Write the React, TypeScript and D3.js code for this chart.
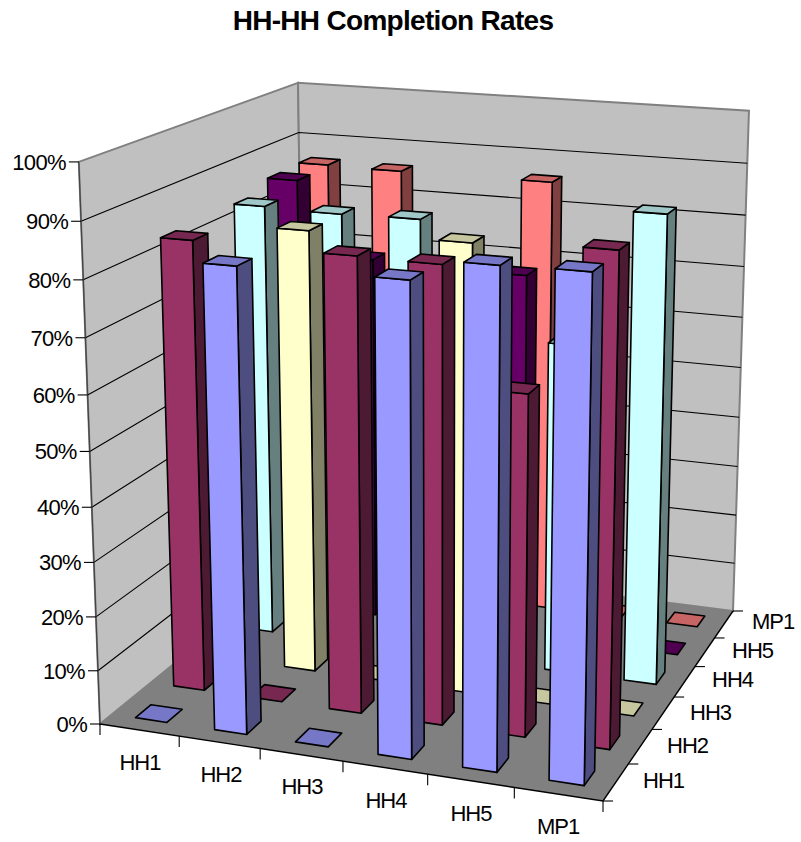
import React from "react";
import * as d3 from "d3";

const categories = ["HH1", "HH2", "HH3", "HH4", "HH5", "MP1"];
const seriesNames = ["HH1", "HH2", "HH3", "HH4", "HH5", "MP1"];
const valueTicks = [0, 10, 20, 30, 40, 50, 60, 70, 80, 90, 100];

const hh1Rates = [0, 83.5, 0, 83.7, 87.4, 87.6];
const hh2Rates = [83.5, 0, 83.2, 83, 62, 87.9];
const hh3Rates = [0, 83.3, 0, 83.5, 0, 0];
const hh4Rates = [83.6, 83.3, 83.5, 0, 62.7, 87.9];
const hh5Rates = [85.7, 71.5, 0, 71, 0, 0];
const mp1Rates = [86, 85.8, 0, 85.8, 0, 0];
const seriesRates = [hh1Rates, hh2Rates, hh3Rates, hh4Rates, hh5Rates, mp1Rates];
const seriesColors = ["#9999FF", "#993366", "#FFFFCC", "#CCFFFF", "#660066", "#FF8080"];

// Projected corners of the plot box: floor quad, then the three visible top corners.
const floorFL: [number, number] = [100, 724];
const floorFR: [number, number] = [603, 801];
const floorBR: [number, number] = [733, 611];
const floorBL: [number, number] = [305, 557];
const topFL: [number, number] = [80, 166];
const topBL: [number, number] = [297, 83];
const topBR: [number, number] = [749, 107];

const catLabelPos: [number, number][] = [[140, 763], [221, 775], [302, 787], [386, 801], [471, 814], [558, 827]];
const depthLabelPos: [number, number][] = [[643, 781], [667, 746], [690, 713], [712, 680], [732, 651], [752, 622]];

function floorHomography() {
  const [x0, y0] = floorFL, [x1, y1] = floorFR, [x2, y2] = floorBR, [x3, y3] = floorBL;
  const dx1 = x1 - x2, dx2 = x3 - x2, sx = x0 - x1 + x2 - x3;
  const dy1 = y1 - y2, dy2 = y3 - y2, sy = y0 - y1 + y2 - y3;
  const den = dx1 * dy2 - dx2 * dy1;
  const g = (sx * dy2 - dx2 * sy) / den;
  const h = (dx1 * sy - sx * dy1) / den;
  return {
    a: x1 - x0 + g * x1, b: x3 - x0 + h * x3, c: x0,
    d: y1 - y0 + g * y1, e: y3 - y0 + h * y3, f: y0,
    g, h,
  };
}
const H = floorHomography();

// Least-squares fit of the homogeneous z column from the top corners.
function fitZColumn() {
  const tops: [number, number, [number, number]][] = [[0, 0, topFL], [0, 1, topBL], [1, 1, topBR]];
  const rows: number[][] = [];
  tops.forEach(([X, Y, [u, v]]) => {
    const nx = H.a * X + H.b * Y + H.c;
    const ny = H.d * X + H.e * Y + H.f;
    const w = H.g * X + H.h * Y + 1;
    rows.push([1, 0, -u, u * w - nx]);
    rows.push([0, 1, -v, v * w - ny]);
  });
  const m = [0, 1, 2].map((i) =>
    [0, 1, 2, 3].map((j) => d3.sum(rows, (r) => r[i] * r[j]))
  );
  for (let i = 0; i < 3; i++) {
    for (let k = 0; k < 3; k++) {
      if (k === i) continue;
      const f = m[k][i] / m[i][i];
      for (let j = i; j < 4; j++) m[k][j] -= f * m[i][j];
    }
  }
  return [m[0][3] / m[0][0], m[1][3] / m[1][1], m[2][3] / m[2][2]];
}
const [zx, zy, zw] = fitZColumn();

function project(X: number, Y: number, Z: number): [number, number] {
  const w = H.g * X + H.h * Y + 1 + zw * Z;
  return [
    (H.a * X + H.b * Y + H.c + zx * Z) / w,
    (H.d * X + H.e * Y + H.f + zy * Z) / w,
  ];
}

const xBand = d3.scaleBand<string>().domain(categories).range([0, 1]).paddingInner(0.6).paddingOuter(0.3);
const yBand = d3.scaleBand<string>().domain(seriesNames).range([0, 1]).paddingInner(0.6).paddingOuter(0.3);
const zScale = d3.scaleLinear().domain([0, 100]).range([0, 1]);

const poly = (pts: [number, number][]) =>
  pts.map((p) => `${p[0].toFixed(2)},${p[1].toFixed(2)}`).join(" ");

function shade(color: string, k: number) {
  const c = d3.rgb(color);
  return d3.rgb(c.r * k, c.g * k, c.b * k).formatHex();
}

function Column({ cat, series, value, color }: { cat: string; series: string; value: number; color: string }) {
  const x0 = xBand(cat)!, x1 = x0 + xBand.bandwidth();
  const y0 = yBand(series)!, y1 = y0 + yBand.bandwidth();
  const z = zScale(value);
  const common = { stroke: "#000", strokeWidth: 1.6, strokeLinejoin: "round" as const };
  const top = (
    <polygon
      {...common}
      fill={shade(color, 0.78)}
      points={poly([project(x0, y0, z), project(x1, y0, z), project(x1, y1, z), project(x0, y1, z)])}
    />
  );
  if (value === 0) return top;
  return (
    <g>
      <polygon
        {...common}
        fill={shade(color, 0.5)}
        points={poly([project(x1, y0, 0), project(x1, y1, 0), project(x1, y1, z), project(x1, y0, z)])}
      />
      <polygon
        {...common}
        fill={color}
        points={poly([project(x0, y0, 0), project(x1, y0, 0), project(x1, y0, z), project(x0, y0, z)])}
      />
      {top}
    </g>
  );
}

const font = "'Liberation Sans', Arial, sans-serif";

export default function App() {
  const step = 1 / categories.length;
  const boundaries = d3.range(categories.length + 1).map((i) => i * step);
  return (
    <svg width={801} height={842} style={{ position: "absolute", left: 0, top: 0 }} fontFamily={font}>
      <rect width={801} height={842} fill="#fff" />
      <text x={393} y={30} fontSize={28} fontWeight="bold" textAnchor="middle" letterSpacing={-0.7}>
        HH-HH Completion Rates
      </text>

      {/* walls */}
      <polygon
        points={poly([project(0, 0, 0), project(0, 1, 0), project(0, 1, 1), project(0, 0, 1)])}
        fill="#C0C0C0" stroke="#808080" strokeWidth={2}
      />
      <polygon
        points={poly([project(0, 1, 0), project(1, 1, 0), project(1, 1, 1), project(0, 1, 1)])}
        fill="#C0C0C0" stroke="#808080" strokeWidth={2}
      />
      {/* gridlines */}
      {valueTicks.slice(1, -1).map((t) => {
        const z = zScale(t);
        return (
          <polyline key={t} fill="none" stroke="#000" strokeWidth={1.1}
            points={poly([project(0, 0, z), project(0, 1, z), project(1, 1, z)])} />
        );
      })}
      {/* floor */}
      <polygon points={poly([project(0, 0, 0), project(1, 0, 0), project(1, 1, 0), project(0, 1, 0)])} fill="#808080" />
      <line x1={project(0, 0, 0)[0]} y1={project(0, 0, 0)[1]} x2={project(0, 0, 1)[0]} y2={project(0, 0, 1)[1]} stroke="#444" strokeWidth={1.2} />
      <polyline fill="none" stroke="#000" strokeWidth={1.4}
        points={poly([project(0, 0, 0), project(1, 0, 0), project(1, 1, 0)])} />

      {/* value axis */}
      {valueTicks.map((t) => {
        const [u, v] = project(0, 0, zScale(t));
        return (
          <g key={t}>
            <line x1={u - 10} x2={u} y1={v} y2={v} stroke="#000" strokeWidth={1.1} />
            <text x={u - 13} y={v + 8} fontSize={22} textAnchor="end" letterSpacing={-0.7}>{t}%</text>
          </g>
        );
      })}
      {/* category axis */}
      {boundaries.map((b) => {
        const [u, v] = project(b, 0, 0);
        return <line key={b} x1={u} x2={u} y1={v} y2={v + 11} stroke="#000" strokeWidth={1.1} />;
      })}
      {categories.map((c, i) => (
        <text key={c} x={catLabelPos[i][0]} y={catLabelPos[i][1] + 7} fontSize={22} textAnchor="middle" letterSpacing={-1}>{c}</text>
      ))}
      {/* depth axis */}
      {boundaries.map((b) => {
        const [u, v] = project(1, b, 0);
        return <line key={b} x1={u} x2={u + 10} y1={v} y2={v} stroke="#000" strokeWidth={1.1} />;
      })}
      {seriesNames.map((s, i) => (
        <text key={s} x={depthLabelPos[i][0]} y={depthLabelPos[i][1] + 7} fontSize={22} letterSpacing={-1}>{s}</text>
      ))}

      {/* columns, far row first, left to right inside each row */}
      {seriesNames.map((_, j) => seriesNames.length - 1 - j).map((j) => (
        <g key={j}>
          {categories.map((c) => (
            <Column key={c} cat={c} series={seriesNames[j]}
              value={seriesRates[j][categories.indexOf(c)]} color={seriesColors[j]} />
          ))}
        </g>
      ))}
    </svg>
  );
}
